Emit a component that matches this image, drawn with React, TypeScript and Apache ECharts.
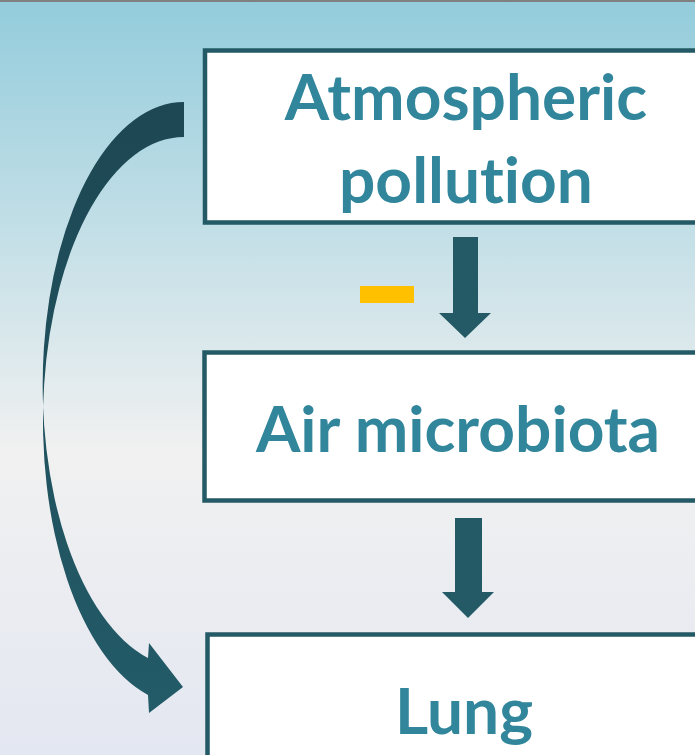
import React, { useEffect, useRef } from "react";
import * as echarts from "echarts";

const nodeLabels: string[][] = [["Atmospheric", "pollution"], ["Air microbiota"], ["Lung"]];
const effectSigns: string[] = ["-"];

const TEXT_COLOR = "#31869B";
const DARK = "#235A66";

const curvedPath =
  "M 184 102 A 141 282.6 0 0 0 148 658 L 149 643 L 183 687 L 149 713 L 148 695 A 141 283.7 0 0 1 184 137 Z";

let registered = false;
function ensureShapes() {
  if (registered) return;
  echarts.graphic.registerShape("curvedArrow", echarts.graphic.extendPath(curvedPath, {}) as any);
  registered = true;
}

export default function App() {
  const ref = useRef<HTMLDivElement>(null);
  useEffect(() => {
    if (!ref.current) return;
    ensureShapes();
    const chart = echarts.init(ref.current, null, { renderer: "svg" });
    const font = (s: number) => `bold ${s}px Lato`;
    const txt = (t: string, x: number, y: number) => ({
      type: "text",
      z: 10,
      style: {
        text: t,
        x,
        y,
        font: font(64),
        fill: TEXT_COLOR,
        textAlign: "center",
        textVerticalAlign: "middle",
        align: "center",
        verticalAlign: "middle",
      },
    });
    const box = (x: number, y: number, h: number) => ({
      type: "rect",
      z: 5,
      shape: { x, y, width: 700, height: h },
      style: { fill: "#FFFFFF", stroke: DARK, lineWidth: 4.5 },
    });
    const downArrow = (x1: number, x2: number, top: number, headY: number, hx1: number, hx2: number, tipY: number) => ({
      type: "polygon",
      z: 6,
      shape: {
        points: [
          [x1, top],
          [x2, top],
          [x2, headY],
          [hx2, headY],
          [(hx1 + hx2) / 2, tipY],
          [hx1, headY],
          [x1, headY],
        ],
      },
      style: { fill: DARK },
    });
    chart.setOption({
      animation: false,
      graphic: [
        {
          type: "rect",
          z: 0,
          shape: { x: 0, y: 0, width: 695, height: 755 },
          style: {
            fill: new echarts.graphic.LinearGradient(0, 0, 0, 1, [
              { offset: 0, color: "#93CCDC" },
              { offset: 0.6, color: "#F1F1F1" },
              { offset: 1, color: "#E3E7F1" },
            ]),
          },
        },
        { type: "rect", z: 1, shape: { x: 0, y: 0, width: 695, height: 2 }, style: { fill: "#808080" } },
        box(205, 50.5, 172),
        box(204.5, 352.5, 148),
        box(207.5, 634.5, 200),
        txt(nodeLabels[0][0], 466, 95),
        txt(nodeLabels[0][1], 466, 178),
        txt(nodeLabels[1][0], 458, 427),
        txt(nodeLabels[2][0], 464, 709),
        downArrow(453, 478, 237, 313, 439, 491, 338),
        downArrow(455, 482, 518, 592, 442, 494, 618),
        {
          type: "rect",
          z: 6,
          shape: { x: 360, y: 286, width: 54, height: 17 },
          style: { fill: "#FFC000" },
          info: effectSigns[0],
        },
        {
          type: "curvedArrow",
          z: 6,
          x: 0,
          y: 0,
          style: {
            fill: new echarts.graphic.LinearGradient(0, 0, 0, 1, [
              { offset: 0, color: "#1D4753" },
              { offset: 1, color: "#235B68" },
            ]),
          },
        },
      ],
    } as any);
    return () => chart.dispose();
  }, []);
  return (
    <>
      <style>{"svg text { font-variant-ligatures: none !important; font-feature-settings: 'liga' 0, 'clig' 0 !important; }"}</style>
      <div
        ref={ref}
        style={{ position: "fixed", left: 0, top: 0, width: 695, height: 755 }}
      />
    </>
  );
}
